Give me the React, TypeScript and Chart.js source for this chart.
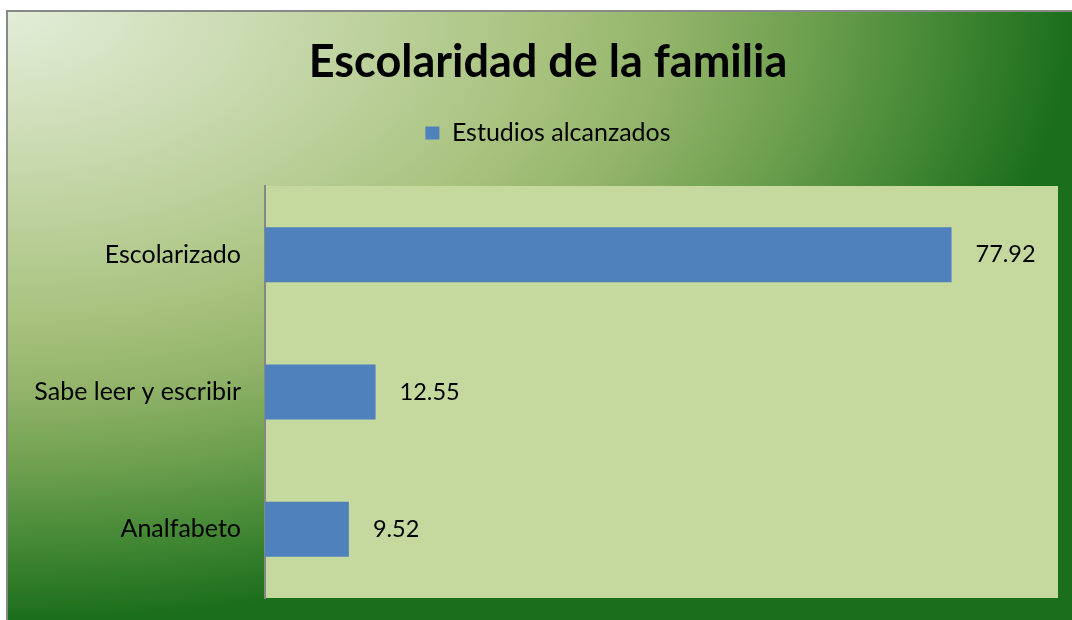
import React, { useEffect, useRef } from "react";
import { Chart, registerables } from "chart.js";

Chart.register(...registerables);

const categories = ["Escolarizado", "Sabe leer y escribir", "Analfabeto"];
const seriesName = "Estudios alcanzados";
const values = [77.92, 12.55, 9.52];
const valueLabels = ["77.92", "12.55", "9.52"];
const titleText = "Escolaridad de la familia";
const axisMax = 90;

const FONT = "Lato, 'Open Sans', sans-serif";

const backgroundPlugin = {
  id: "bgPlugin",
  beforeDraw(chart: any) {
    const { ctx, width, height, chartArea } = chart;
    ctx.save();
    ctx.fillStyle = "#ffffff";
    ctx.fillRect(0, 0, width, height);
    // frame border
    ctx.fillStyle = "#888888";
    ctx.fillRect(6, 10, width - 6, 2);
    ctx.fillRect(6, 10, 2, height - 10);
    // elliptical radial gradient from top-left
    const x0 = 8, y0 = 12;
    const rx = width - x0, ry = height - y0;
    ctx.save();
    ctx.beginPath();
    ctx.rect(x0, y0, width - x0, height - y0);
    ctx.clip();
    ctx.translate(x0, y0);
    ctx.scale(1, ry / rx);
    const g = ctx.createRadialGradient(0, 0, 0, 0, 0, rx);
    g.addColorStop(0, "#e3edd8");
    g.addColorStop(0.25, "#c8d9ad");
    g.addColorStop(0.5, "#a9c37f");
    g.addColorStop(0.62, "#93b46a");
    g.addColorStop(0.75, "#6ea04f");
    g.addColorStop(0.88, "#428734");
    g.addColorStop(1, "#1b6e1a");
    ctx.fillStyle = g;
    ctx.fillRect(0, 0, rx, rx * 1.2);
    ctx.restore();
    // plot area
    ctx.fillStyle = "#c5d89e";
    ctx.fillRect(chartArea.left, chartArea.top, chartArea.right - chartArea.left, chartArea.bottom - chartArea.top);
    ctx.restore();
  },
};

const valueLabelPlugin = {
  id: "valueLabels",
  afterDatasetsDraw(chart: any) {
    const { ctx } = chart;
    const meta = chart.getDatasetMeta(0);
    ctx.save();
    ctx.font = `23.5px ${FONT}`;
    ctx.fillStyle = "#000000";
    ctx.textAlign = "left";
    ctx.textBaseline = "middle";
    meta.data.forEach((bar: any, i: number) => {
      ctx.fillText(valueLabels[i], bar.x + 24, bar.y);
    });
    ctx.restore();
  },
};

export default function App() {
  const ref = useRef<HTMLCanvasElement>(null);
  useEffect(() => {
    document.body.style.margin = "0";
    const padLeft = 26;
    const chart = new Chart(ref.current as HTMLCanvasElement, {
      type: "bar",
      data: {
        labels: categories,
        datasets: [
          {
            label: seriesName,
            data: values,
            backgroundColor: "#4f81bd",
            borderWidth: 0,
            barPercentage: 0.4,
            categoryPercentage: 1.0,
          },
        ],
      },
      options: {
        indexAxis: "y",
        responsive: false,
        animation: false,
        layout: { padding: { left: padLeft, right: 2, top: 0, bottom: 22 } },
        plugins: {
          title: {
            display: true,
            text: titleText,
            color: "#000000",
            font: { family: FONT, size: 45, weight: "bold", lineHeight: 1.2 },
            padding: { top: 35, bottom: 21.5 },
          },
          legend: {
            display: true,
            labels: {
              color: "#000000",
              font: { family: FONT, size: 25 },
              boxWidth: 14,
              boxHeight: 13,
              padding: 10,
            },
          },
          tooltip: { enabled: false },
        },
        scales: {
          x: {
            position: "top",
            min: 0,
            max: axisMax,
            display: true,
            grid: { display: false },
            border: { display: false },
            ticks: { display: false },
            afterFit: (s: any) => {
              s.height = 30.5;
            },
          },
          y: {
            grid: { display: false, drawTicks: false },
            border: { display: true, color: "#868686", width: 2 },
            ticks: {
              color: "#000000",
              font: { family: FONT, size: 25 },
              padding: 24,
            },
            afterFit: (s: any) => {
              s.width = 265 - padLeft;
              s.paddingTop = 0;
              s.paddingBottom = 0;
            },
          },
          yRight: {
            type: "category",
            axis: "y",
            position: "right",
            display: true,
            grid: { display: false, drawTicks: false },
            border: { display: false },
            ticks: { display: false },
            afterFit: (s: any) => {
              s.width = 12;
              s.paddingTop = 0;
              s.paddingBottom = 0;
            },
          },
        },
      },
      plugins: [backgroundPlugin, valueLabelPlugin],
    });
    return () => chart.destroy();
  }, []);
  return <canvas ref={ref} width={1072} height={620} style={{ display: "block" }} />;
}
